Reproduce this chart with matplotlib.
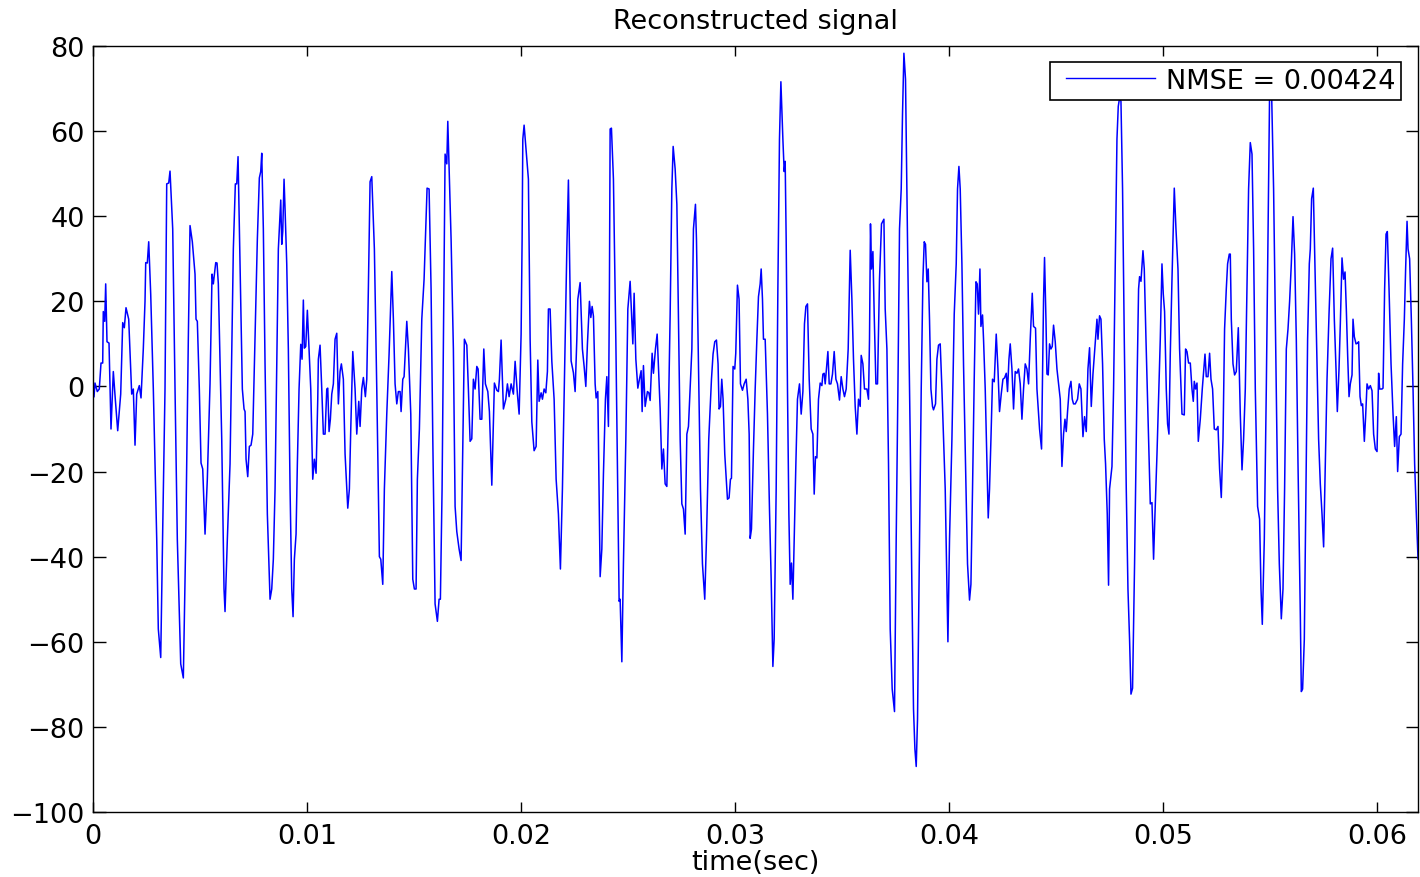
import matplotlib
matplotlib.use("Agg")
import matplotlib.pyplot as plt
from matplotlib.legend_handler import HandlerLine2D
import numpy as np

plt.rcParams['font.family'] = ['DejaVu Sans']

# time in milliseconds, reconstructed signal values
t_ms = [
0.047,0.093,0.201,0.294,0.374,0.453,0.481,0.547,0.593,0.654,0.748,0.841,0.949,1.042,1.154,1.294,1.388,1.463,1.542,1.668,
1.808,1.883,1.963,2.042,2.164,2.243,2.350,2.430,2.463,2.537,2.603,2.696,2.818,2.977,3.051,3.164,3.257,3.364,3.444,3.537,
3.598,3.724,3.832,3.939,4.098,4.220,4.332,4.453,4.533,4.640,4.766,4.813,4.874,4.967,5.047,5.126,5.234,5.341,5.467,5.561,
5.621,5.734,5.794,5.855,6.014,6.121,6.168,6.276,6.402,6.556,6.650,6.715,6.776,6.869,6.977,7.056,7.103,7.150,7.229,7.304,
7.383,7.463,7.570,7.678,7.771,7.836,7.883,7.958,8.037,8.145,8.271,8.350,8.425,8.505,8.584,8.659,8.771,8.818,8.864,8.925,
8.972,9.051,9.126,9.206,9.285,9.346,9.407,9.486,9.547,9.626,9.706,9.766,9.827,9.874,9.939,10.014,10.093,10.173,10.266,10.341,
10.421,10.500,10.528,10.607,10.687,10.762,10.841,10.921,10.967,11.028,11.089,11.154,11.229,11.308,11.388,11.463,11.542,11.603,11.696,11.776,
11.902,11.977,12.042,12.136,12.243,12.322,12.416,12.477,12.556,12.631,12.724,12.790,12.864,12.944,13.023,13.145,13.257,13.379,13.444,13.537,
13.612,13.724,13.832,13.958,14.033,14.112,14.192,14.266,14.346,14.393,14.472,14.533,14.659,14.734,14.846,14.939,15.014,15.093,15.154,15.248,
15.360,15.467,15.607,15.701,15.794,15.874,15.981,16.089,16.168,16.229,16.308,16.369,16.449,16.528,16.575,16.650,16.729,16.836,16.916,16.995,
17.103,17.196,17.276,17.350,17.463,17.537,17.617,17.696,17.771,17.850,17.930,17.991,18.084,18.164,18.257,18.332,18.444,18.519,18.631,18.752,
18.864,18.939,18.986,19.065,19.173,19.285,19.360,19.439,19.533,19.640,19.720,19.827,19.907,20.000,20.047,20.079,20.140,20.341,20.421,20.500,
20.607,20.701,20.780,20.841,20.935,20.996,21.075,21.154,21.229,21.276,21.355,21.435,21.542,21.636,21.743,21.836,21.930,22.023,22.136,22.210,
22.336,22.444,22.523,22.603,22.650,22.757,22.864,22.944,23.023,23.098,23.192,23.257,23.318,23.379,23.458,23.505,23.584,23.692,23.771,23.846,
23.939,24.005,24.079,24.126,24.159,24.220,24.313,24.425,24.500,24.579,24.626,24.706,24.780,24.893,24.986,25.093,25.220,25.280,25.360,25.453,
25.528,25.607,25.654,25.715,25.794,25.902,25.967,26.028,26.121,26.182,26.276,26.355,26.416,26.495,26.575,26.650,26.729,26.808,26.883,26.963,
27.042,27.103,27.196,27.276,27.350,27.430,27.509,27.584,27.664,27.743,27.818,27.897,27.977,28.051,28.145,28.192,28.266,28.379,28.472,28.579,
28.659,28.766,28.893,28.967,29.047,29.126,29.201,29.248,29.313,29.374,29.435,29.514,29.640,29.715,29.780,29.827,29.902,29.981,30.028,30.107,
30.182,30.248,30.341,30.421,30.514,30.593,30.654,30.701,30.762,30.855,30.935,31.014,31.089,31.168,31.215,31.276,31.322,31.402,31.509,31.603,
31.682,31.762,31.822,31.916,31.995,32.070,32.136,32.229,32.290,32.336,32.383,32.444,32.509,32.570,32.631,32.696,32.757,32.836,32.911,33.005,
33.084,33.164,33.238,33.304,33.379,33.458,33.551,33.631,33.692,33.752,33.818,33.893,33.972,34.051,34.098,34.159,34.206,34.285,34.332,34.393,
34.472,34.547,34.626,34.706,34.780,34.874,34.953,35.033,35.107,35.187,35.280,35.374,35.453,35.528,35.607,35.687,35.762,35.841,35.888,35.967,
36.042,36.154,36.229,36.276,36.322,36.369,36.435,36.495,36.575,36.650,36.743,36.836,36.949,37.009,37.089,37.164,37.243,37.336,37.444,37.523,
37.603,37.678,37.757,37.818,37.883,37.958,38.051,38.178,38.257,38.332,38.397,38.458,38.519,38.612,38.692,38.771,38.832,38.893,38.958,39.019,
39.079,39.145,39.220,39.266,39.360,39.425,39.500,39.579,39.659,39.734,39.813,39.893,39.939,40.014,40.126,40.234,40.327,40.388,40.453,40.514,
40.593,40.668,40.762,40.855,40.949,41.014,41.089,41.168,41.248,41.308,41.369,41.435,41.481,41.556,41.603,41.682,41.762,41.822,41.883,41.949,
42.023,42.103,42.196,42.276,42.350,42.430,42.509,42.584,42.664,42.724,42.790,42.850,42.930,43.005,43.084,43.164,43.238,43.318,43.397,43.472,
43.551,43.631,43.706,43.785,43.879,43.939,44.033,44.098,44.220,44.313,44.407,44.453,44.519,44.566,44.626,44.687,44.752,44.813,44.874,44.953,
45.033,45.107,45.187,45.266,45.341,45.407,45.467,45.528,45.607,45.687,45.748,45.808,45.888,45.995,46.075,46.154,46.248,46.322,46.402,46.481,
46.556,46.636,46.715,46.790,46.902,46.949,47.023,47.089,47.164,47.243,47.304,47.383,47.444,47.491,47.603,47.678,47.757,47.836,47.897,47.958,
48.023,48.098,48.178,48.271,48.350,48.425,48.491,48.565,48.659,48.771,48.846,48.893,48.958,49.051,49.112,49.192,49.285,49.393,49.472,49.547,
49.612,49.706,49.780,49.860,49.939,50.000,50.061,50.140,50.201,50.266,50.327,50.407,50.514,50.593,50.687,50.762,50.874,50.981,51.042,51.107,
51.182,51.262,51.341,51.402,51.449,51.509,51.575,51.636,51.729,51.822,51.949,52.009,52.089,52.164,52.229,52.304,52.383,52.477,52.556,52.631,
52.710,52.790,52.864,52.944,53.005,53.084,53.131,53.178,53.257,53.332,53.411,53.505,53.598,53.678,53.752,53.832,53.911,53.986,54.065,54.145,
54.220,54.299,54.407,54.500,54.565,54.626,54.720,54.813,54.893,54.967,55.061,55.154,55.248,55.341,55.421,55.514,55.593,55.668,55.748,55.827,
55.902,55.981,56.061,56.136,56.215,56.294,56.402,56.449,56.509,56.589,56.668,56.743,56.822,56.869,56.930,57.009,57.070,57.182,57.257,57.336,
57.416,57.491,57.570,57.650,57.743,57.836,57.912,57.991,58.070,58.131,58.210,58.271,58.350,58.425,58.491,58.551,58.612,58.678,58.738,58.818,
58.864,58.925,59.005,59.079,59.126,59.192,59.252,59.313,59.393,59.453,59.519,59.593,59.673,59.752,59.827,59.907,59.986,60.061,60.107,60.220,
60.266,60.341,60.407,60.467,60.547,60.640,60.734,60.808,60.888,60.949,61.028,61.107,61.182,61.262,61.322,61.388,61.435,61.509,61.589,61.668,
61.743,61.822,61.902,61.963,
]

signal = [
-2.4,0.8,-1.2,-0.6,5.5,5.5,17.6,15.3,24.1,10.5,10.2,-10,3.5,-3,-10.4,-1.8,15,13.8,18.5,15.8,
-1.8,-0.6,-13.8,-1.8,0.2,-2.7,8.8,20,29.1,29,34,21.7,-0.6,-35.9,-57,-63.7,-33.5,-0.6,47.6,47.8,
50.6,37,-0.6,-35.9,-65.2,-68.5,-35.9,11.1,37.8,34,26.4,15.8,15.3,-0.6,-18,-19.4,-34.7,-21.8,0.6,26.4,
24.1,29.1,29,24.1,-12.4,-47.6,-52.9,-35.9,-18.2,32.3,47.6,47.6,54,28.8,-0.6,-5.3,-5.9,-17.1,-21.2,-14.1,
-13.8,-11.2,11.1,34.6,49,50.5,54.8,37,5.3,-30,-50,-47.6,-40.6,-24.1,5.3,32.3,43.8,33.4,36.4,48.7,
41.7,28.8,8.8,-24.1,-47.6,-54.1,-40.6,-34.7,-18.2,-0.6,9.9,6.4,20.3,9,9.4,17.9,8.8,-0.6,-21.8,-17.1,
-20.4,-3,6.4,9.7,-0.6,-11.2,-11.2,-0.6,-0.4,-10.6,-7.7,-1.8,0.6,11.1,12.5,-4.1,3.5,5.3,1.7,-15.9,
-28.6,-24.1,-10,8.2,-0.6,-11.2,-3.5,-9.4,-0.6,2.1,-2.4,1.7,22.9,48.1,49.3,32.3,-0.6,-40,-40.6,-46.5,
-24.1,-6.5,7.6,27,15.8,0.6,-4.1,-1.2,-1.2,-5.9,1.7,2.3,15.3,8.8,-6.5,-45.3,-47.6,-47.6,-21.8,-10,
15.8,25.2,46.6,46.4,22.9,-12.4,-51.1,-55.2,-50,-50,-24.1,11.1,54.6,52.3,62.3,48.7,34.6,8.8,-28.2,-34.1,
-38.2,-40.9,-14.7,11.1,9.7,-0.6,-12.9,-12.3,1.7,-0.6,4.7,4.1,-7.7,-7.7,8.8,0.6,-1.2,-5.9,-23.2,0.8,
-0.9,-1.2,1.7,10.9,-5.3,-3,0.6,-2.4,0.6,-1.8,5.9,-1.8,-6.5,12.3,34.6,58.1,61.4,48.7,11.1,-8.3,
-15.1,-14.1,6.2,-3.5,-1.5,-3,-0.6,-1.5,3.5,18.2,18.2,5.9,-3,-21.8,-30,-42.9,-24.1,1.7,32.3,48.5,
6,3.2,-1.2,11.1,20.5,24.4,8.8,4.7,0,10,20,16.2,18.8,16.5,0.6,-2.7,-1.2,-44.7,-38.2,-20.6,
-3,2.3,-9.4,22.9,60.5,60.7,48.7,11.1,-18.2,-50.5,-50,-64.7,-41.7,-12.4,18.2,24.7,10,21.9,6.4,-0.4,
1.7,3.7,-5.9,4.9,-4.7,-1.2,-1.5,-3.3,7.8,3.1,8.8,12.3,4.7,-5.3,-19.4,-14.7,-22.9,-23.5,-6.5,17,
46.4,56.4,51.1,42.8,17,-12.4,-27.6,-28.8,-34.7,-11.2,-9.4,-0.6,8.8,37,42.8,34.6,11.1,-24.1,-41.7,-50,
-35.9,-12.4,1.7,7.6,10.5,10.9,5.3,-5.3,-4.7,1.7,-3,-15.9,-26.5,-26.2,-21.8,-21.6,4.7,4.1,7.8,23.8,
20.5,0.6,-0.9,0.6,1.7,-3,-11.2,-35.7,-33.5,-14.7,-0.6,11.1,21.1,24.1,27.6,20.5,11.1,11.1,-6.5,-28.8,
-45.3,-65.8,-59.3,-24.1,22.9,58.1,71.6,58.1,50.5,52.9,34.6,-0.6,-30,-46.5,-41.5,-50,-35.9,-18.2,-3,0.6,
-6.5,-1.2,14.7,18.8,19.4,1.7,-10,-11.2,-25.3,-16.5,-16.8,-3,0.8,0.2,2.9,3.1,0.6,5.3,8.2,0.6,
0.6,2.9,8.2,1.7,0.6,-3.2,2.3,-0.6,-2.4,-0.6,8.8,32,20.5,6.4,-4.7,-11.2,-3,-4.7,7.3,5.3,
-0.6,-0.6,-3,11.1,38.2,27.6,31.7,17,0.6,0.6,25.2,38.2,39.3,18.2,8.8,-18.2,-57,-71.1,-76.4,-35.9,
-0.6,37,46.4,64,78.3,72.2,34.6,-12.4,-47.6,-75.8,-85.2,-89.3,-78.2,-35.9,-0.6,25.2,34,33.4,24.6,27.6,
15.8,-0.6,-4.7,-5.5,-4.1,6.4,9.7,10,-0.6,-12.4,-24.1,-47.6,-60,-35.9,-12.4,17,28.8,46.4,51.7,46.4,
28.8,5.3,-18.2,-41.7,-50.2,-46.5,-24.1,1.7,24.6,24.1,17,27.6,14.1,16.8,11.1,-0.6,-18.2,-30.9,-24.1,-12.4,
1.7,1.1,12.3,4.1,-5.9,-1.8,1.7,2,3.1,-1.2,6.4,10,4.1,-5.3,3.5,3.1,4.1,0.6,-7.7,-0.6,
5.3,4.1,0.6,11.1,21.9,14.1,13.7,-0.6,-10,-14.7,20.5,30.3,15.8,2.9,2.7,10,8.8,9.4,14.4,10.5,
4.1,0.6,-3,-18.8,-11.2,-7.7,-10.6,-5.9,-0.6,1.2,-3,-4.1,-4.1,-3,0.6,-0.6,-11.8,-7.1,-10.6,4.1,
9.1,-4.7,2.9,8.2,15.8,11.1,16.6,15.8,5.3,-12.4,-18.2,-30,-46.7,-24.1,-18.8,-0.6,28.8,58.1,65.8,67.8,
67,46.4,11.1,-24.1,-47.6,-59.4,-72.3,-70.9,-41.7,-0.6,22.9,25.8,24.7,31.9,27.6,11.1,-6.5,-27.6,-27.3,-40.6,
-30,-15.9,-3,11.1,28.8,21.7,17.6,-0.6,-8.8,-11.2,7.6,25.2,46.6,37,27.6,8.8,-6.5,-6.7,8.8,8.2,
5.5,5.5,-0.6,-3.5,1.2,-0.6,0.8,-12.9,-7.7,-0.6,7.6,2.3,2.3,7.8,1.7,-0.6,-10,-10.2,-9.4,-19.4,
-26.1,-12.4,13.5,22.9,28.8,31.1,31.1,15.8,5.3,2.7,3.5,13.8,-6.5,-19.6,-12.4,-0.6,22.9,46.4,57.3,54.6,
32.3,-0.6,-28.2,-31.2,-47.6,-55.9,-35.9,-0.6,34.6,69,69,46.4,11.1,-24.1,-41.7,-54.6,-47.6,-24.1,8.8,13.5,
20,28.8,39.9,31.1,11.1,-18.2,-53.5,-71.7,-71.1,-59.4,-24.1,11.1,28.8,32.3,44.1,46.6,32.3,5.3,-12.4,-22.9,
-30,-37.7,-18.2,1.7,17,30,32.5,15.8,4.1,-5.9,4.1,14.7,30.2,25.2,26.9,18.2,7.6,-2.4,0.6,2.7,
15.8,11.7,10,10.2,10.5,-2.4,-4.5,-4.1,-12.9,-7.1,0.6,-0.6,0.2,-1,-11.2,-14.7,-15.3,3.1,-0.6,-0.6,
-0.4,22.9,35.8,36.4,22.9,5.3,-6.5,-14.1,-7.1,-20,-11.8,-11.2,5.3,15.8,27.6,38.8,32.3,30,15.8,-0.6,
-18.2,-30,-40.6,-38.2,
]

xtick_vals = [0, 0.01, 0.02, 0.03, 0.04, 0.05, 0.06]
xtick_labels = ["0", "0.01", "0.02", "0.03", "0.04", "0.05", "0.06"]
ytick_vals = [-100, -80, -60, -40, -20, 0, 20, 40, 60, 80]
legend_label = "NMSE = 0.00424"

t = np.array(t_ms) / 1000.0
y = np.array(signal)

FS = 19.5

fig = plt.figure(figsize=(14.2, 8.78), dpi=100)
ax = fig.add_axes([93/1420, 1 - 813/878, (1418 - 93)/1420, (813 - 47)/878])

ax.plot(t, y, color=(0, 0, 1), lw=1.1, label=legend_label)

ax.set_xlim(0, 0.0619)
ax.set_ylim(-100, 80)
ax.set_xticks(xtick_vals)
ax.set_xticklabels(xtick_labels)
ax.set_yticks(ytick_vals)

ax.tick_params(axis='both', direction='in', top=True, right=True,
               labelsize=FS, width=1, colors='black')
ax.tick_params(axis='x', length=7, pad=8)
ax.tick_params(axis='y', length=9, pad=6)
for s in ax.spines.values():
    s.set_linewidth(1.0)
    s.set_color('black')

ax.set_title("Reconstructed signal", fontsize=FS, pad=13)
ax.set_xlabel("time(sec)", fontsize=FS, labelpad=0)

leg = ax.legend(loc='upper right', bbox_to_anchor=(1 - 17/1325, 1 - 16/766),
                fontsize=FS, frameon=True, fancybox=False, framealpha=1,
                edgecolor='black', handlelength=3.65, handletextpad=0.38,
                borderpad=0.22, borderaxespad=0,
                handler_map={ax.lines[0]: HandlerLine2D(xpad=0.35)})
leg.get_frame().set_linewidth(1.2)
leg.get_lines()[0].set_linewidth(1.0)

fig.savefig("out.png", dpi=100)
